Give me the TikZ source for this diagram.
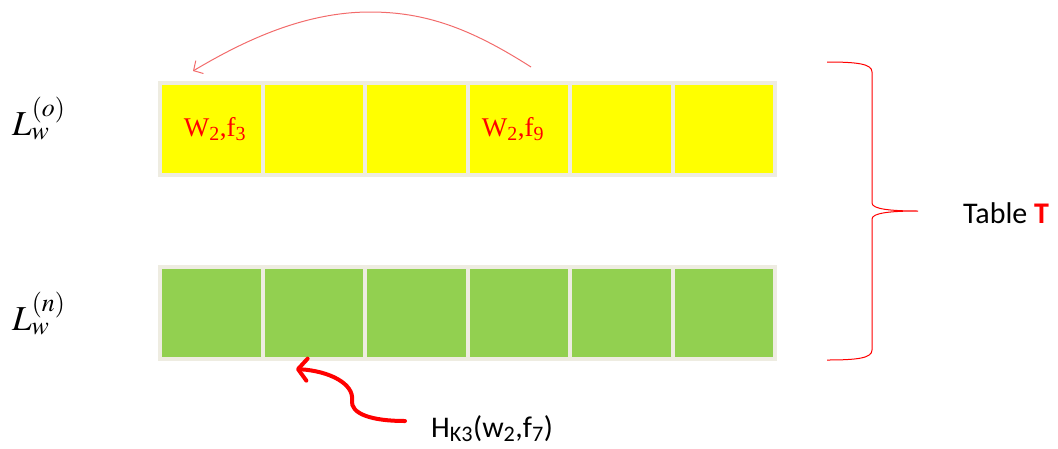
\documentclass[tikz,border=0pt]{standalone}
\usepackage{mathptmx}
\usepackage{fontspec}
\setmainfont{Liberation Serif}
\newfontfamily\calfont{Carlito}
\newfontfamily\timesfont{Liberation Serif}
\usetikzlibrary{arrows.meta}
\definecolor{framegray}{HTML}{EEECE1}
\definecolor{cellyellow}{HTML}{FFFF00}
\definecolor{cellgreen}{HTML}{92D050}
\definecolor{lightred}{HTML}{F26B6B}
\tikzset{
  ycell/.style={fill=cellyellow, draw=none, minimum width=98.5pt, minimum height=88pt, inner sep=0pt, anchor=north west},
  gcell/.style={fill=cellgreen, draw=none, minimum width=98.5pt, minimum height=88pt, inner sep=0pt, anchor=north west},
  celltext/.style={text=red, font=\timesfont\fontsize{27}{30}\selectfont, inner sep=0pt},
  rowlabel/.style={font=\fontsize{35}{40}\selectfont, inner sep=0pt},
  sanslabel/.style={font=\calfont\fontsize{30}{34}\selectfont, inner sep=0pt, anchor=base west},
}
\begin{document}
\begin{tikzpicture}[x=1pt,y=-1pt]
\useasboundingbox (0,0) rectangle (1058,448);
% frames
\fill[framegray] (158,81) rectangle (777,177);
\fill[framegray] (158,265) rectangle (777,361);
% cells
\foreach \i in {1,...,6}{
  \node[ycell] (y\i) at ({162+(\i-1)*102.5},85) {};
  \node[gcell] (g\i) at ({162+(\i-1)*102.5},269) {};
}
% cell texts
\node[celltext] (t1) at (215,129) {W\textsubscript{2},f\textsubscript{3}};
\node[celltext] (t4) at (513,129) {W\textsubscript{2},f\textsubscript{9}};
% row labels
\node[rowlabel, anchor=base west] (lo) at (12,135) {$L_w^{(o)}$};
\node[rowlabel, anchor=base west] (ln) at (12,330) {$L_w^{(n)}$};
% top arrow
\coordinate (ts) at (531,67);
\coordinate (te) at (193,71);
\draw[lightred, line width=1pt, -{Straight Barb[length=7pt,width=15pt]}]
  (ts) .. controls (470,28) and (425,12) .. (370,12)
       .. controls (305,12) and (245,40) .. (te);
% brace
\draw[red, line width=1pt]
  (827,62) .. controls (858,62) and (872,64) .. (872,72)
  -- (872,203) .. controls (872,209) and (890,211) .. (918,211)
  .. controls (890,211) and (872,213) .. (872,219)
  -- (872,350) .. controls (872,358) and (858,360) .. (827,360);
\node[sanslabel] (tab) at (963,223) {Table \textcolor{red}{\textbf{T}}};
% bottom arrow
\node[sanslabel] (hk) at (431,437) {H\textsubscript{K3}(w\textsubscript{2},f\textsubscript{7})};
\coordinate (bs) at (405,421);
\coordinate (be) at (296,369);
\draw[red, line width=4pt, line cap=round, -{Straight Barb[length=9pt,width=22pt,round]}]
  (bs) .. controls (372,421) and (350,414) .. (352,400)
       .. controls (354,384) and (330,371) .. (be);
\end{tikzpicture}
\end{document}
